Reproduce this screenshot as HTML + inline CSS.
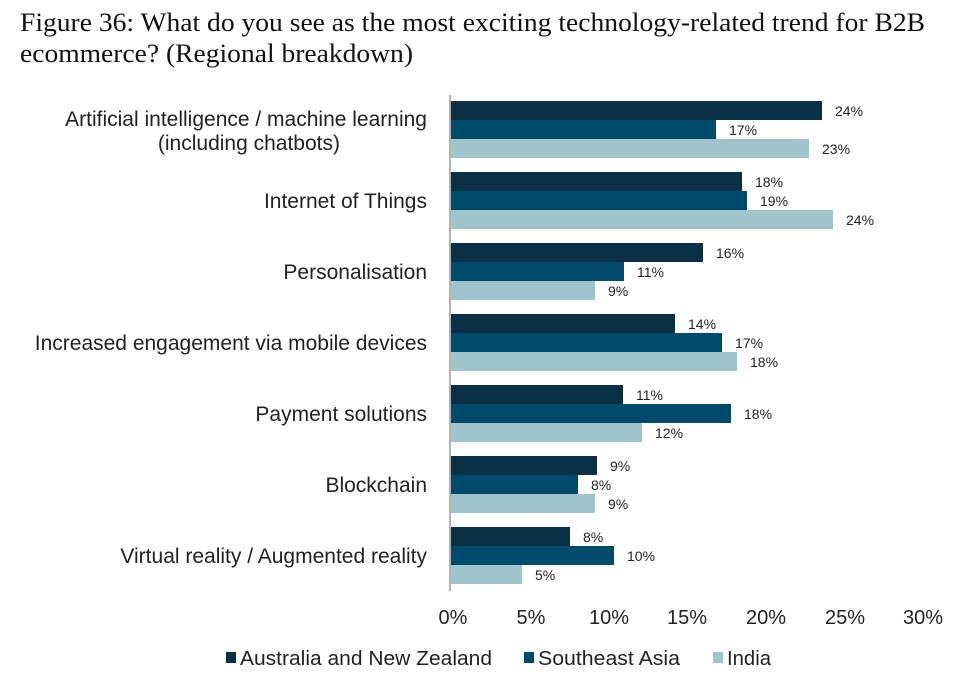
<!DOCTYPE html>
<html><head><meta charset="utf-8"><style>
body{margin:0;background:#fff;}
svg{display:block;font-family:"Liberation Sans",Arial,sans-serif;}
</style></head><body>
<svg width="975" height="688" viewBox="0 0 975 688">
<text x="20" y="31" font-family="Liberation Serif,serif" font-size="26" fill="#111" textLength="905" lengthAdjust="spacingAndGlyphs">Figure 36: What do you see as the most exciting technology-related trend for B2B</text>
<text x="20" y="62" font-family="Liberation Serif,serif" font-size="26" fill="#111" textLength="393" lengthAdjust="spacingAndGlyphs">ecommerce? (Regional breakdown)</text>
<g>
<rect x="451" y="101" width="371" height="19" fill="#0b2f45"/><rect x="451" y="120" width="265" height="19" fill="#004b6b"/><rect x="451" y="139" width="358" height="19" fill="#a0c4cb"/>
<rect x="451" y="172" width="291" height="19" fill="#0b2f45"/><rect x="451" y="191" width="296" height="19" fill="#004b6b"/><rect x="451" y="210" width="382" height="19" fill="#a0c4cb"/>
<rect x="451" y="243" width="252" height="19" fill="#0b2f45"/><rect x="451" y="262" width="173" height="19" fill="#004b6b"/><rect x="451" y="281" width="144" height="19" fill="#a0c4cb"/>
<rect x="451" y="314" width="224" height="19" fill="#0b2f45"/><rect x="451" y="333" width="271" height="19" fill="#004b6b"/><rect x="451" y="352" width="286" height="19" fill="#a0c4cb"/>
<rect x="451" y="385" width="172" height="19" fill="#0b2f45"/><rect x="451" y="404" width="280" height="19" fill="#004b6b"/><rect x="451" y="423" width="191" height="19" fill="#a0c4cb"/>
<rect x="451" y="456" width="146" height="19" fill="#0b2f45"/><rect x="451" y="475" width="127" height="19" fill="#004b6b"/><rect x="451" y="494" width="144" height="19" fill="#a0c4cb"/>
<rect x="451" y="527" width="119" height="19" fill="#0b2f45"/><rect x="451" y="546" width="163" height="19" fill="#004b6b"/><rect x="451" y="565" width="71" height="19" fill="#a0c4cb"/>
</g>
<g font-size="14" fill="#222">
<text x="835" y="116">24%</text><text x="729" y="135">17%</text><text x="822" y="154">23%</text>
<text x="755" y="187">18%</text><text x="760" y="206">19%</text><text x="846" y="225">24%</text>
<text x="716" y="258">16%</text><text x="637" y="277">11%</text><text x="608" y="296">9%</text>
<text x="688" y="329">14%</text><text x="735" y="348">17%</text><text x="750" y="367">18%</text>
<text x="636" y="400">11%</text><text x="744" y="419">18%</text><text x="655" y="438">12%</text>
<text x="610" y="471">9%</text><text x="591" y="490">8%</text><text x="608" y="509">9%</text>
<text x="583" y="542">8%</text><text x="627" y="561">10%</text><text x="535" y="580">5%</text>
</g>
<line x1="450" y1="95" x2="450" y2="591" stroke="#999" stroke-width="1.5"/>
<g font-size="21" fill="#222" text-anchor="end">
<text x="427" y="126">Artificial intelligence / machine learning</text>
<text x="340" y="150">(including chatbots)</text>
<text x="427" y="208">Internet of Things</text>
<text x="427" y="279">Personalisation</text>
<text x="427" y="350">Increased engagement via mobile devices</text>
<text x="427" y="421">Payment solutions</text>
<text x="427" y="492">Blockchain</text>
<text x="427" y="563">Virtual reality / Augmented reality</text>
</g>
<g font-size="20" fill="#222" text-anchor="middle">
<text x="453" y="624">0%</text><text x="531" y="624">5%</text><text x="609" y="624">10%</text>
<text x="687" y="624">15%</text><text x="766" y="624">20%</text><text x="845" y="624">25%</text><text x="923" y="624">30%</text>
</g>
<g font-size="20" fill="#222">
<rect x="226" y="652" width="10" height="11" fill="#0b2f45"/><text x="240" y="665" textLength="252" lengthAdjust="spacingAndGlyphs">Australia and New Zealand</text>
<rect x="524" y="652" width="10" height="11" fill="#004b6b"/><text x="538" y="665" textLength="142" lengthAdjust="spacingAndGlyphs">Southeast Asia</text>
<rect x="713" y="652" width="10" height="11" fill="#a0c4cb"/><text x="727" y="665" textLength="44" lengthAdjust="spacingAndGlyphs">India</text>
</g>
</svg>
</body></html>
